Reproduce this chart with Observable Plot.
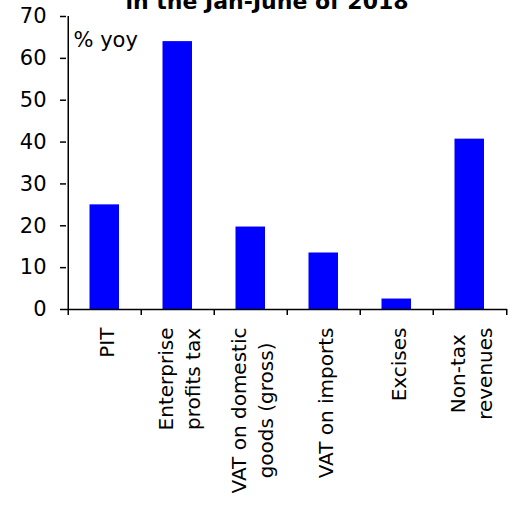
<!DOCTYPE html>
<html><head><meta charset="utf-8">
<script src="https://cdn.jsdelivr.net/npm/d3@7"></script>
<script src="https://cdn.jsdelivr.net/npm/@observablehq/plot@0.6"></script>
<style>
body{margin:0;background:#fff;overflow:hidden}
#wrap{position:relative;width:515px;height:517px;overflow:hidden;background:#fff}
#title{position:absolute;top:-9px;left:0;width:534px;text-align:center;font:bold 22px "DejaVu Sans",Verdana,sans-serif;line-height:22px;white-space:nowrap;z-index:2}
#chart{position:absolute;top:0;left:0}
</style></head><body>
<div id="wrap"><div id="title"></div><div id="chart"></div></div>
<script>
const titleText = "in the Jan-June of 2018";
const unitLabel = "% yoy";
const categories = ["PIT", "Enterprise\nprofits tax", "VAT on domestic\ngoods (gross)", "VAT on imports", "Excises", "Non-tax\nrevenues"];
const values = [25, 64, 19.7, 13.5, 2.5, 40.7];
const yTicks = [0, 10, 20, 30, 40, 50, 60, 70];

document.getElementById("title").textContent = titleText;

const W = 515, H = 517, mL = 66, mR = 8, mT = 16, mB = 208;
const step = (W - mL - mR) / categories.length;
const data = categories.map((c, i) => ({c, v: values[i]}));

const chart = Plot.plot({
  width: W, height: H,
  marginLeft: mL, marginRight: mR, marginTop: mT, marginBottom: mB,
  style: {fontFamily: '"DejaVu Sans", Verdana, sans-serif', fontSize: "20px", background: "white", color: "black"},
  x: {domain: categories, padding: 0, label: null},
  y: {domain: [0, 70], label: null},
  marks: [
    Plot.barY(data, {x: "c", y: "v", fill: "#0000ff", insetLeft: 21.5, insetRight: 22}),
    Plot.ruleY([0], {strokeWidth: 1.5}),
    Plot.ruleX([categories[0]], {x: d => d, dx: -step / 2, y1: 0, y2: 70, strokeWidth: 1.5}),
    Plot.ruleX(categories, {x: d => d, dx: -step / 2, y1: 0, y2: 0, insetBottom: -6, strokeWidth: 1.5}),
    Plot.ruleX([categories[categories.length - 1]], {x: d => d, dx: step / 2, y1: 0, y2: 0, insetBottom: -6, strokeWidth: 1.5}),
    Plot.axisY({ticks: yTicks, tickSize: 6, tickPadding: 14, strokeWidth: 1.5, label: null, fontSize: 21}),
    Plot.axisX({tickSize: 0, tickPadding: 18, tickRotate: -90, lineHeight: 1.35, label: null, fontSize: 20}),
    Plot.text([unitLabel], {text: d => d, frameAnchor: "top-left", dx: 7, dy: 16, textAnchor: "start", fontSize: 21})
  ]
});
document.getElementById("chart").appendChild(chart);

// center the lines of multi-line category labels within their block
chart.querySelectorAll('g[aria-label="x-axis tick label"] text').forEach(t => {
  const spans = t.querySelectorAll("tspan");
  if (spans.length < 2) return;
  const lens = Array.from(spans, s => s.getComputedTextLength());
  const M = Math.max(...lens);
  spans.forEach((s, i) => s.setAttribute("x", -(M - lens[i]) / 2));
});
</script>
</body></html>
